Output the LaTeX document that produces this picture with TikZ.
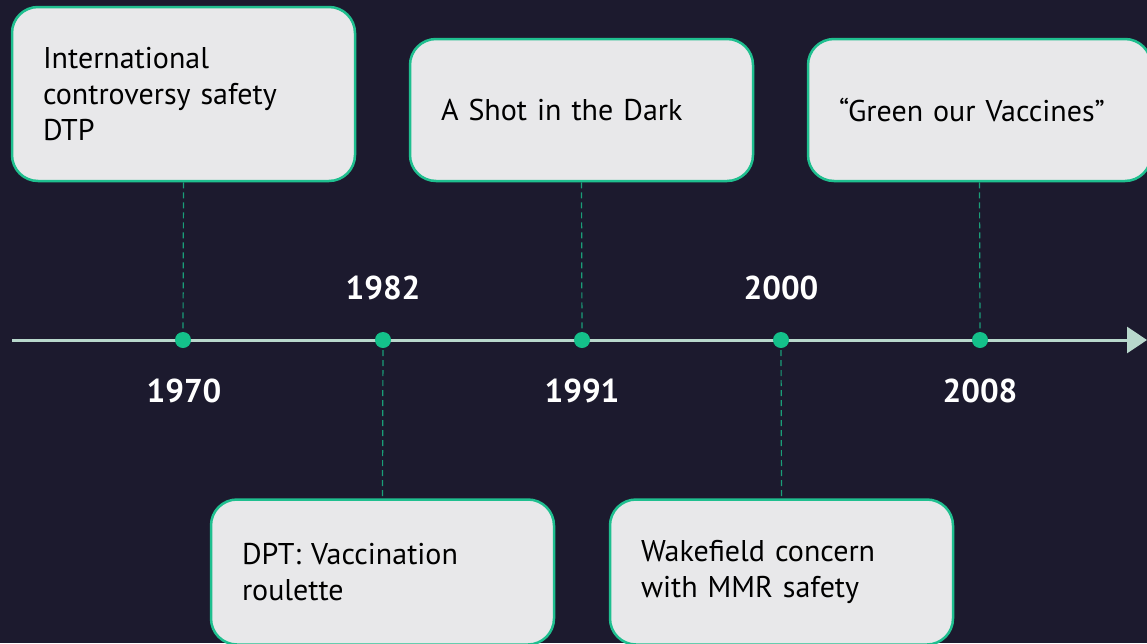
\documentclass[tikz,border=0pt]{standalone}
\usepackage{fontspec}
\setmainfont{PT Sans}
\usepackage{tikz}
\usetikzlibrary{arrows.meta}

\definecolor{bgnavy}{HTML}{1C1A2E}
\definecolor{boxfill}{HTML}{E8E8EA}
\definecolor{boxline}{HTML}{1FBF8F}
\definecolor{dotgreen}{HTML}{14C08A}
\definecolor{linkgreen}{HTML}{1A9E78}
\definecolor{axisgray}{HTML}{B8D8CC}

\begin{document}
\begin{tikzpicture}[x=1pt,y=-1pt,
  event/.style={draw=boxline,line width=2.5pt,fill=boxfill,rounded corners=26pt,
    text width=281pt,inner xsep=31pt,inner ysep=0pt,align=left,
    font=\fontsize{30}{36}\selectfont},
  dot/.style={circle,fill=dotgreen,inner sep=0pt,minimum size=16pt},
  year/.style={text=white,font=\fontsize{33}{40}\selectfont\bfseries},
  link/.style={draw=linkgreen,line width=1.2pt,dash pattern=on 6pt off 4pt}]
  \fill[bgnavy] (0,0) rectangle (1147,643);
  \useasboundingbox (0,0) rectangle (1147,643);

  % time axis
  \coordinate (start) at (12,340);
  \coordinate (end) at (1147,340);
  \draw[axisgray,line width=3pt,-{Triangle[length=20pt,width=26pt]}] (start) -- (end);

  % events above and below the axis
  \node (e1970) at (183.5,94) [event,minimum height=174pt] {International\\controversy safety\\DTP};
  \node (e1991) at (581.5,110) [event,minimum height=142pt] {A Shot in the Dark};
  \node (e2008) at (979.5,110) [event,minimum height=142pt] {``Green our Vaccines''};
  \node (e1982) at (382.5,572) [event,minimum height=145pt] {DPT: Vaccination\\roulette};
  \node (e2000) at (781.5,572) [event,minimum height=145pt] {Wakefield concern\\with MMR safety};

  \coordinate (c1970) at (183,340);
  \coordinate (c1982) at (383,340);
  \coordinate (c1991) at (582,340);
  \coordinate (c2000) at (781,340);
  \coordinate (c2008) at (980,340);

  \draw[link] (e1970.south) to (c1970);
  \draw[link] (e1991.south) to (c1991);
  \draw[link] (e2008.south) to (c2008);
  \draw[link] (c1982) to (e1982.north);
  \draw[link] (c2000) to (e2000.north);

  \node (d1970) at (c1970) [dot] {};
  \node (d1982) at (c1982) [dot] {};
  \node (d1991) at (c1991) [dot] {};
  \node (d2000) at (c2000) [dot] {};
  \node (d2008) at (c2008) [dot] {};

  \node (y1970) at (184,391) [year] {1970};
  \node (y1982) at (383,288) [year] {1982};
  \node (y1991) at (582,391) [year] {1991};
  \node (y2000) at (781,288) [year] {2000};
  \node (y2008) at (980,391) [year] {2008};
\end{tikzpicture}
\end{document}
